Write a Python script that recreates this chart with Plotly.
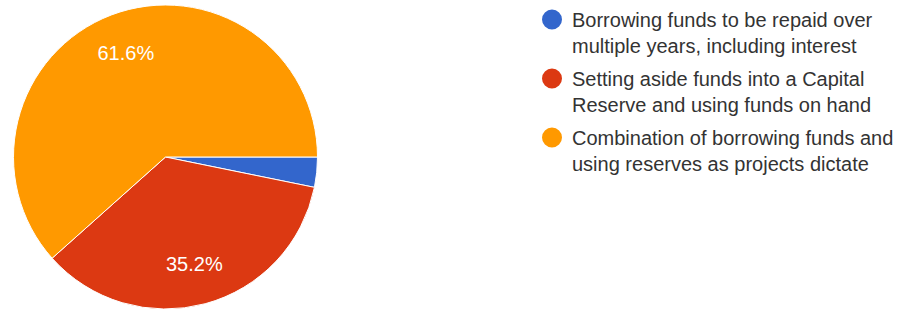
import plotly.graph_objects as go

labels = [
    "Borrowing funds to be repaid over<br>multiple years, including interest",
    "Setting aside funds into a Capital<br>Reserve and using funds on hand",
    "Combination of borrowing funds and<br>using reserves as projects dictate",
]
values = [3.2, 35.2, 61.6]
colors = ["#3366CC", "#DC3912", "#FF9900"]
text_templates = ["", "%{percent:.1%}", "%{percent:.1%}"]

W, H = 907, 309
FONT = "Liberation Sans, Arial, sans-serif"

fig = go.Figure()

pie_domain = dict(x=[13 / W, 318 / W], y=[0.0, 304 / H])

# solid pie (no text)
fig.add_trace(go.Pie(
    labels=labels, values=values, sort=False, direction="clockwise", rotation=90,
    marker=dict(colors=colors, line=dict(color="white", width=1)),
    textinfo="none", showlegend=False, domain=pie_domain, hoverinfo="label+percent",
))
# transparent ring carrying the labels (places them at ~0.73 R)
fig.add_trace(go.Pie(
    labels=labels, values=values, sort=False, direction="clockwise", rotation=90,
    hole=0.46,
    marker=dict(colors=["rgba(0,0,0,0)"] * 3, line=dict(width=0)),
    texttemplate=text_templates, textposition="inside", insidetextorientation="horizontal",
    textfont=dict(color="white", size=20, family=FONT),
    showlegend=False, domain=pie_domain, hoverinfo="skip",
))

# legend entries with circle symbols
for i, (lab, col) in enumerate(zip(labels, colors)):
    fig.add_trace(go.Scatter(
        x=[None], y=[None], mode="markers", name=lab,
        marker=dict(symbol="circle", size=16, color=col, line=dict(color=col, width=4)),
        legendgroup=f"g{i}", showlegend=True,
    ))

fig.update_layout(
    width=W, height=H,
    margin=dict(l=0, r=0, t=0, b=0),
    paper_bgcolor="white", plot_bgcolor="white",
    xaxis=dict(visible=False), yaxis=dict(visible=False),
    legend=dict(
        x=532 / W, xanchor="left", y=1, yanchor="top",
        font=dict(family=FONT, size=20, color="#333333"),
        valign="top", tracegroupgap=4, bgcolor="rgba(0,0,0,0)",
    ),
)

fig.write_html("out.html", config={"displayModeBar": False},
               post_script="document.body.style.margin='0';")
